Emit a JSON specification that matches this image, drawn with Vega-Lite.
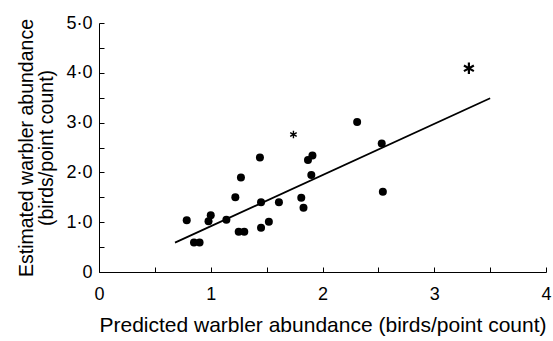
{
  "$schema": "https://vega.github.io/schema/vega-lite/v6.json",
  "width": 447,
  "height": 249,
  "autosize": "none",
  "padding": {"left": 99, "top": 23, "right": 7, "bottom": 69},
  "background": "white",
  "config": {
    "view": {"stroke": null},
    "font": "Liberation Sans",
    "axis": {
      "domainColor": "black",
      "domainWidth": 1,
      "tickColor": "black",
      "tickWidth": 1,
      "tickSize": -5,
      "grid": false,
      "labelColor": "black",
      "titleColor": "black",
      "labelFont": "Liberation Sans",
      "titleFont": "Liberation Sans",
      "titleFontWeight": "normal",
      "labelFontSize": 18,
      "titleFontSize": 19.5
    }
  },
  "datasets": {
    "sites": [
      {"predicted": 0.785, "estimated": 1.04},
      {"predicted": 0.85, "estimated": 0.59},
      {"predicted": 0.90, "estimated": 0.59},
      {"predicted": 0.98, "estimated": 1.02},
      {"predicted": 1.00, "estimated": 1.14},
      {"predicted": 1.14, "estimated": 1.05},
      {"predicted": 1.22, "estimated": 1.50},
      {"predicted": 1.25, "estimated": 0.81},
      {"predicted": 1.30, "estimated": 0.81},
      {"predicted": 1.27, "estimated": 1.90},
      {"predicted": 1.44, "estimated": 2.30},
      {"predicted": 1.45, "estimated": 1.40},
      {"predicted": 1.45, "estimated": 0.89},
      {"predicted": 1.52, "estimated": 1.01},
      {"predicted": 1.61, "estimated": 1.40},
      {"predicted": 1.81, "estimated": 1.49},
      {"predicted": 1.83, "estimated": 1.29},
      {"predicted": 1.87, "estimated": 2.25},
      {"predicted": 1.91, "estimated": 2.34},
      {"predicted": 1.90, "estimated": 1.95},
      {"predicted": 2.31, "estimated": 3.01},
      {"predicted": 2.53, "estimated": 2.58},
      {"predicted": 2.54, "estimated": 1.61}
    ],
    "starred": [
      {"site": "small", "predicted": 1.74, "estimated": 2.76},
      {"site": "large", "predicted": 3.31, "estimated": 4.09}
    ],
    "fit": [
      {"predicted": 0.68, "estimated": 0.59},
      {"predicted": 3.50, "estimated": 3.49}
    ]
  },
  "encoding": {
    "x": {
      "field": "predicted",
      "type": "quantitative",
      "scale": {"domain": [0, 4], "nice": false, "zero": false},
      "axis": {
        "title": "Predicted warbler abundance (birds/point count)",
        "values": [0, 0.5, 1, 1.5, 2, 2.5, 3, 3.5, 4],
        "labelExpr": "datum.value % 1 == 0 ? '' + datum.value : ''",
        "labelPadding": 18,
        "labelFlush": false,
        "titlePadding": 11,
        "titleFontSize": 21
      }
    },
    "y": {
      "field": "estimated",
      "type": "quantitative",
      "scale": {"domain": [0, 5], "nice": false},
      "axis": {
        "title": ["Estimated warbler abundance", "(birds/point count)"],
        "values": [0, 0.5, 1, 1.5, 2, 2.5, 3, 3.5, 4, 4.5, 5],
        "labelExpr": "datum.value % 1 == 0 ? (datum.value == 0 ? '0' : datum.value + '·0') : ''",
        "labelPadding": 12,
        "labelFlush": false,
        "titleX": -67,
        "titleY": 124.5,
        "titleAngle": -90,
        "titleAlign": "center",
        "titleBaseline": "alphabetic",
        "titleLineHeight": 20
      }
    }
  },
  "layer": [
    {
      "data": {"name": "fit"},
      "mark": {"type": "line", "color": "black", "strokeWidth": 1.8}
    },
    {
      "data": {"name": "sites"},
      "mark": {"type": "point", "shape": "circle", "filled": true, "color": "black", "opacity": 1, "size": 64}
    },
    {
      "data": {"name": "starred"},
      "transform": [{"filter": "datum.site == 'large'"}],
      "mark": {
        "type": "point",
        "shape": "M0,-1L0,1M-0.87,-0.5L0.87,0.5M-0.87,0.5L0.87,-0.5",
        "filled": false,
        "color": "black",
        "opacity": 1,
        "strokeWidth": 2.2,
        "size": 130
      }
    },
    {
      "data": {"name": "starred"},
      "transform": [{"filter": "datum.site == 'small'"}],
      "mark": {
        "type": "point",
        "shape": "M0,-1L0,1M-0.87,-0.5L0.87,0.5M-0.87,0.5L0.87,-0.5",
        "filled": false,
        "color": "black",
        "opacity": 1,
        "strokeWidth": 1.4,
        "size": 56
      }
    }
  ]
}
